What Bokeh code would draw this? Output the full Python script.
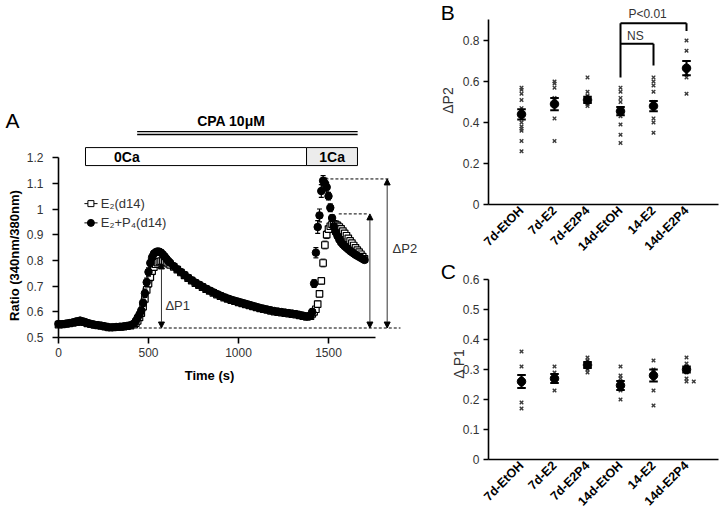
from math import pi
from bokeh.plotting import figure
from bokeh.layouts import row, column
from bokeh.models import (FixedTicker, Arrow, NormalHead, Range1d, NumeralTickFormatter)
from bokeh.embed import file_html
from bokeh.resources import INLINE
from bokeh.core.properties import value

FONT = "Liberation Sans"

# ---------------- Panel A data (time course) ----------------
time_s = [0, 20, 40, 60, 80, 100, 120, 140, 160, 180, 200, 220, 240, 260, 280, 300, 320, 340, 360, 380, 400, 420,
          430, 440, 450, 460, 470, 480, 490, 500, 510, 520, 530, 540, 550, 560, 570, 580, 590, 600, 610, 620,
          640, 660, 680, 700, 720, 740, 760, 780, 800, 820, 840, 860, 880, 900, 920, 940, 960, 980, 1000,
          1020, 1040, 1060, 1080, 1100, 1120, 1140, 1160, 1180, 1200, 1220, 1240, 1260, 1280, 1300, 1320,
          1340, 1360, 1380, 1400,
          1410, 1420, 1430, 1440, 1450, 1460, 1470, 1480, 1490, 1500, 1510, 1520, 1530, 1540, 1550, 1560,
          1570, 1580, 1590, 1600, 1610, 1620, 1630, 1640, 1650, 1660, 1670, 1680, 1690, 1700]

ratio_e2p4 = [0.553, 0.552, 0.554, 0.556, 0.559, 0.563, 0.566, 0.562, 0.557, 0.553, 0.550, 0.548, 0.546, 0.543,
              0.540, 0.540, 0.541, 0.542, 0.543, 0.545, 0.548, 0.555,
              0.565, 0.578, 0.590, 0.605, 0.635, 0.672, 0.715, 0.755, 0.790, 0.812, 0.826, 0.832, 0.835, 0.834,
              0.830, 0.823, 0.815, 0.806, 0.798, 0.791,
              0.778, 0.766, 0.755, 0.744, 0.733, 0.723, 0.714, 0.706, 0.698, 0.690, 0.683, 0.676, 0.669, 0.663,
              0.657, 0.652, 0.647, 0.643, 0.639, 0.635, 0.631, 0.627, 0.623, 0.619, 0.615, 0.612, 0.609, 0.606,
              0.603, 0.601, 0.599, 0.597, 0.595, 0.593, 0.591, 0.588, 0.585, 0.582, 0.586,
              0.600, 0.710, 0.830, 0.930, 0.975, 1.070, 1.110, 1.100, 1.085, 1.050, 1.005, 0.965, 0.932, 0.910,
              0.895, 0.881, 0.870, 0.862, 0.855, 0.849, 0.843, 0.837, 0.832, 0.827, 0.822, 0.818, 0.814, 0.810,
              0.806, 0.802]

sem_e2p4 = ([0.005] * 22 +
            [0.006, 0.008, 0.010, 0.012, 0.014, 0.016, 0.016, 0.016, 0.015, 0.014, 0.012, 0.010, 0.010, 0.010,
             0.010, 0.009, 0.009, 0.008, 0.008, 0.008] +
            [0.007] * 39 +
            [0.010, 0.015, 0.020, 0.025, 0.025, 0.025, 0.020, 0.020, 0.018, 0.015, 0.015, 0.012, 0.010] +
            [0.008] * 17)

ratio_e2 = [0.550, 0.551, 0.553, 0.555, 0.557, 0.560, 0.563, 0.560, 0.555, 0.552, 0.549, 0.547, 0.545, 0.542,
            0.539, 0.539, 0.540, 0.541, 0.542, 0.544, 0.546, 0.550,
            0.556, 0.565, 0.578, 0.595, 0.620, 0.650, 0.685, 0.710, 0.735, 0.758, 0.774, 0.785, 0.791, 0.795,
            0.797, 0.797, 0.795, 0.791, 0.787, 0.783,
            0.775, 0.764, 0.753, 0.742, 0.731, 0.721, 0.712, 0.704, 0.696, 0.688, 0.681, 0.674, 0.667, 0.661,
            0.655, 0.650, 0.645, 0.641, 0.637, 0.633, 0.629, 0.625, 0.621, 0.617, 0.613, 0.610, 0.607, 0.604,
            0.601, 0.599, 0.597, 0.595, 0.593, 0.591, 0.589, 0.586, 0.583, 0.580, 0.583,
            0.592, 0.600, 0.610, 0.630, 0.670, 0.720, 0.790, 0.860, 0.900, 0.922, 0.933, 0.940, 0.942, 0.940,
            0.936, 0.930, 0.923, 0.914, 0.905, 0.896, 0.886, 0.876, 0.867, 0.858, 0.849, 0.840, 0.832, 0.824,
            0.815, 0.806]

sem_e2 = ([0.005] * 22 +
          [0.006, 0.008, 0.010, 0.012, 0.013, 0.014, 0.015, 0.015, 0.015, 0.014, 0.013, 0.012, 0.012, 0.012,
           0.011, 0.010, 0.010, 0.009, 0.009, 0.008] +
          [0.007] * 39 +
          [0.008, 0.008, 0.010, 0.012, 0.012, 0.012, 0.015, 0.015, 0.015, 0.014, 0.013, 0.012, 0.012] +
          [0.010] * 17)

a_xticks = [0, 500, 1000, 1500]
a_yticks = [0.5, 0.6, 0.7, 0.8, 0.9, 1.0, 1.1, 1.2]

# ---------------- Panels B and C data ----------------
groups = ["7d-EtOH", "7d-E2", "7d-E2P4", "14d-EtOH", "14-E2", "14d-E2P4"]

dp2_7d_etoh = [0.57, 0.56, 0.54, 0.51, 0.47, 0.45, 0.42, 0.40, 0.38, 0.37, 0.36, 0.31, 0.26]
dp2_7d_e2 = [0.60, 0.59, 0.57, 0.52, 0.50, 0.48, 0.42, 0.31]
dp2_7d_e2p4 = [0.62, 0.55, 0.53, 0.52, 0.51, 0.50, 0.49, 0.48]
dp2_14d_etoh = [0.57, 0.55, 0.52, 0.50, 0.47, 0.45, 0.44, 0.43, 0.39, 0.34, 0.30]
dp2_14_e2 = [0.62, 0.60, 0.58, 0.55, 0.50, 0.48, 0.47, 0.42, 0.40, 0.35]
dp2_14d_e2p4 = [0.80, 0.75, 0.66, 0.64, 0.62, 0.54]
dp2_mean = [0.44, 0.49, 0.51, 0.455, 0.48, 0.665]
dp2_sem = [0.025, 0.03, 0.015, 0.02, 0.025, 0.035]

dp1_7d_etoh = [0.36, 0.31, 0.27, 0.25, 0.19, 0.17]
dp1_7d_e2 = [0.31, 0.29, 0.28, 0.27, 0.26, 0.23]
dp1_7d_e2p4 = [0.34, 0.33, 0.32, 0.31, 0.30, 0.29]
dp1_14d_etoh = [0.31, 0.28, 0.27, 0.25, 0.24, 0.23, 0.20]
dp1_14_e2 = [0.33, 0.30, 0.29, 0.27, 0.23, 0.18]
dp1_14d_e2p4 = [0.34, 0.32, 0.31, 0.30, 0.29, 0.27, 0.26, 0.26]
dp1_mean = [0.26, 0.27, 0.315, 0.247, 0.28, 0.30]
dp1_sem = [0.022, 0.015, 0.01, 0.015, 0.02, 0.01]

b_yticks = [0, 0.2, 0.4, 0.6, 0.8]
c_yticks = [0, 0.1, 0.2, 0.3, 0.4, 0.5, 0.6]

TXT = "#333333"


def style_axes(p):
    p.grid.visible = False
    p.outline_line_color = None
    for ax in (p.xaxis, p.yaxis):
        ax.axis_line_width = 1.6
        ax.axis_line_color = "black"
        ax.major_tick_line_width = 1.6
        ax.major_tick_line_color = "black"
        ax.minor_tick_line_color = None
        ax.major_label_text_font = FONT
        ax.major_label_text_font_size = "12px"
        ax.major_label_text_color = TXT


def txt(p, x, y, s, size="13px", style="normal", align="left", baseline="middle", color=TXT, angle=0.0):
    p.text(x=[x], y=[y], text=[s], text_font=value(FONT), text_font_size=size, text_font_style=style,
           text_align=align, text_baseline=baseline, text_color=color, angle=angle)


# ---------------- Panel A ----------------
pA = figure(width=430, height=410, x_range=Range1d(-322.2, 2066.7), y_range=Range1d(0.2160, 1.8113),
            output_backend="svg", toolbar_location=None,
            min_border_left=0, min_border_right=0, min_border_top=0, min_border_bottom=0)
style_axes(pA)
pA.xaxis.fixed_location = 0.5
pA.yaxis.fixed_location = 0
pA.xaxis.ticker = FixedTicker(ticks=a_xticks)
pA.yaxis.ticker = FixedTicker(ticks=a_yticks)
pA.yaxis.formatter = NumeralTickFormatter(format="0.[0]")
pA.xaxis.bounds = (0, 1760)
pA.yaxis.bounds = (0.5, 1.2)
for ax in (pA.xaxis, pA.yaxis):
    ax.major_tick_out = 6
    ax.major_tick_in = 0
pA.yaxis.major_label_standoff = 9
pA.xaxis.major_label_standoff = 4

txt(pA, -244, 0.819, "Ratio (340nm/380nm)", size="13px", style="bold", align="center", color="black",
    angle=pi / 2)
txt(pA, 839, 0.352, "Time (s)", size="13px", style="bold", align="center", color="black")
txt(pA, -294, 1.344, "A", size="21px", color="black")

# data: E2 squares, E2+P4 circles with error bars
lo2 = [v - s for v, s in zip(ratio_e2, sem_e2)]
hi2 = [v + s for v, s in zip(ratio_e2, sem_e2)]
lo24 = [v - s for v, s in zip(ratio_e2p4, sem_e2p4)]
hi24 = [v + s for v, s in zip(ratio_e2p4, sem_e2p4)]
pA.segment(x0=time_s, x1=time_s, y0=lo2, y1=hi2, line_color="black", line_width=1)
pA.scatter(x=time_s + time_s, y=lo2 + hi2, marker="dash", size=5, line_color="black", line_width=1)
pA.scatter(x=time_s, y=ratio_e2, marker="square", size=6.5, fill_color="white", line_color="black",
           line_width=1.2)
pA.segment(x0=time_s, x1=time_s, y0=lo24, y1=hi24, line_color="black", line_width=1.2)
pA.scatter(x=time_s + time_s, y=lo24 + hi24, marker="dash", size=5, line_color="black", line_width=1.2)
pA.scatter(x=time_s, y=ratio_e2p4, marker="circle", size=7.5, fill_color="black", line_color="black")

# condition boxes
pA.quad(left=150, right=1378, bottom=1.169, top=1.239, fill_color="white", line_color="black", line_width=1)
pA.quad(left=1378, right=1661, bottom=1.169, top=1.239, fill_color="#ececec", line_color="black", line_width=1)
txt(pA, 380, 1.204, "0Ca", size="14px", style="bold", align="center", color="black")
txt(pA, 1520, 1.204, "1Ca", size="14px", style="bold", align="center", color="black")
pA.segment(x0=[437, 437], x1=[1662, 1662], y0=[1.301, 1.290], y1=[1.301, 1.290], line_color="black",
           line_width=1.3)
txt(pA, 960, 1.344, "CPA 10μM", size="14px", style="bold", align="center", color="black")

# legend
pA.segment(x0=[144, 144], x1=[217, 217], y0=[1.021, 0.946], y1=[1.021, 0.946], line_color="black", line_width=1)
pA.scatter(x=[180], y=[1.021], marker="square", size=6, fill_color="white", line_color="black")
pA.scatter(x=[180], y=[0.946], marker="circle", size=7, fill_color="black", line_color="black")
txt(pA, 235, 1.021, "E₂(d14)")
txt(pA, 235, 0.946, "E₂+P₄(d14)")

# dashed reference lines and arrows
pA.segment(x0=[446, 1483, 1557], x1=[1900, 1844, 1724], y0=[0.537, 1.117, 0.981], y1=[0.537, 1.117, 0.981],
           line_color="black", line_width=1, line_dash="3 2")
for xa, ya in ((572, 0.79), (1730, 0.981), (1826, 1.117)):
    pA.add_layout(Arrow(x_start=xa, y_start=0.537, x_end=xa, y_end=ya, line_color="#333333", line_width=1,
                        start=NormalHead(size=6, fill_color="black", line_color="black"),
                        end=NormalHead(size=6, fill_color="black", line_color="black")))
txt(pA, 594, 0.625, "ΔP1")
txt(pA, 1856, 0.846, "ΔP2")


# ---------------- Panels B, C ----------------
def dot_panel(height, ymin, ymax, yticks, bounds_top, ylabel, ylabel_x, ylabel_y, mean, sem, sets, letter,
              letter_y):
    p = figure(width=290, height=height, x_range=Range1d(-1.758, 7.03), y_range=Range1d(ymin, ymax),
               output_backend="svg", toolbar_location=None,
               min_border_left=0, min_border_right=0, min_border_top=0, min_border_bottom=0)
    style_axes(p)
    p.xaxis.fixed_location = 0
    p.yaxis.fixed_location = 0
    p.yaxis.ticker = FixedTicker(ticks=yticks)
    p.yaxis.formatter = NumeralTickFormatter(format="0.[0]")
    p.yaxis.bounds = (0, bounds_top)
    p.xaxis.bounds = (0, 6.97)
    p.yaxis.major_tick_out = 5
    p.yaxis.major_tick_in = 0
    p.yaxis.major_label_standoff = 4
    p.xaxis.ticker = FixedTicker(ticks=[1, 2, 3, 4, 5, 6])
    p.xaxis.major_label_overrides = {i + 1: g for i, g in enumerate(groups)}
    p.xaxis.major_label_orientation = pi / 4
    p.xaxis.major_tick_out = 0
    p.xaxis.major_tick_in = 0
    p.xaxis.major_label_standoff = 4
    p.xaxis.major_label_text_font_style = "bold"
    p.xaxis.major_label_text_color = "black"
    p.xaxis.major_label_text_font_size = "12.5px"
    txt(p, ylabel_x, ylabel_y, ylabel, size="14px", align="center", angle=pi / 2)
    txt(p, -1.45, letter_y, letter, size="21px", color="black")
    xs, ys = [], []
    for i, vals in enumerate(sets):
        seen = {}
        for v in vals:
            k = round(v, 2)
            n = seen.get(k, 0)
            seen[k] = n + 1
            off = [0, 0.22, -0.22, 0.44, -0.44][n % 5]
            xs.append(i + 1 + off)
            ys.append(v)
    p.scatter(x=xs, y=ys, marker="x", size=5, line_color="#3a3a3a", line_width=1.4)
    cx = [i + 1 for i in range(len(groups))]
    lo = [m - s for m, s in zip(mean, sem)]
    hi = [m + s for m, s in zip(mean, sem)]
    p.segment(x0=cx, x1=cx, y0=lo, y1=hi, line_color="black", line_width=2)
    p.segment(x0=[c - 0.13 for c in cx] * 2, x1=[c + 0.13 for c in cx] * 2, y0=lo + hi, y1=lo + hi,
              line_color="black", line_width=2)
    p.scatter(x=cx, y=mean, marker="circle", size=8.5, fill_color="black", line_color="black")
    return p


pB = dot_panel(256, -0.2537, 0.9951, b_yticks, 0.9, "ΔP2", -1.24, 0.507, dp2_mean, dp2_sem,
               [dp2_7d_etoh, dp2_7d_e2, dp2_7d_e2p4, dp2_14d_etoh, dp2_14_e2, dp2_14d_e2p4], "B", 0.937)
# significance brackets
pB.segment(x0=[4, 4, 6, 4, 5], x1=[4, 6, 6, 5, 5], y0=[0.62, 0.884, 0.884, 0.784, 0.784],
           y1=[0.884, 0.884, 0.846, 0.784, 0.678], line_color="black", line_width=2)
txt(pB, 4.82, 0.893, "P<0.01", size="12px", align="center", baseline="bottom")
txt(pB, 4.45, 0.789, "NS", size="12px", align="center", baseline="bottom")

pC = dot_panel(258, -0.1833, 0.6767, c_yticks, 0.6, "Δ P1", -0.88, 0.32, dp1_mean, dp1_sem,
               [dp1_7d_etoh, dp1_7d_e2, dp1_7d_e2p4, dp1_14d_etoh, dp1_14_e2, dp1_14d_e2p4], "C", 0.627)

layout = row(pA, column(pB, pC))
open("out.html", "w").write(file_html(layout, INLINE))
